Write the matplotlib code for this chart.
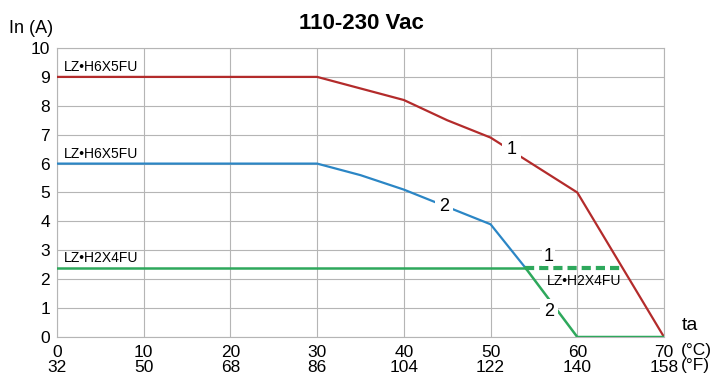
import numpy as np
import matplotlib.pyplot as plt

plt.rcParams['font.family'] = ['Liberation Sans', 'DejaVu Sans']

# derating data, current In (A) vs ambient temperature ta (°C)
temp_c = [0, 10, 20, 30, 40, 50, 60, 70]
temp_f = [32, 50, 68, 86, 104, 122, 140, 158]

h6_ta_1 = [0, 30, 35, 40, 45, 50, 60, 70]
h6_in_1 = [9, 9, 8.6, 8.2, 7.5, 6.9, 5.0, 0]

h6_ta_2 = [0, 30, 35, 40, 45, 50, 54]
h6_in_2 = [6, 6, 5.6, 5.1, 4.5, 3.9, 2.4]

h2_ta = [0, 54]
h2_in = [2.4, 2.4]
h2_ta_1 = [54, 65]
h2_in_1 = [2.4, 2.4]
h2_ta_2 = [54, 60, 70]
h2_in_2 = [2.4, 0, 0]

red = '#b32b2b'
blue = '#2b86c5'
green = '#2ea85c'

fig = plt.figure(figsize=(7.15, 3.84), dpi=100)
ax = fig.add_axes([0.0797, 0.1224, 0.849, 0.7526])

ax.plot(h6_ta_1, h6_in_1, color=red, lw=1.6, zorder=3)
ax.plot(h6_ta_2, h6_in_2, color=blue, lw=1.6, zorder=3)
ax.plot(h2_ta, h2_in, color=green, lw=1.8, zorder=3)
ax.plot(h2_ta_2, h2_in_2, color=green, lw=1.8, zorder=3)
ax.plot(h2_ta_1, h2_in_1, color=green, lw=3, ls=(0, (2.2, 1.2)), zorder=3)

box = dict(facecolor='white', edgecolor='none', pad=3)
ax.text(52.4, 6.5, '1', fontsize=13, ha='center', va='center', bbox=box, zorder=4)
ax.text(44.6, 4.5, '2', fontsize=13, ha='center', va='center', bbox=box, zorder=4)
ax.text(56.7, 2.8, '1', fontsize=13, ha='center', va='center',
        bbox=dict(facecolor='white', edgecolor='none', pad=1), zorder=4)
ax.text(56.7, 0.87, '2', fontsize=13, ha='center', va='center', bbox=box, zorder=4)

ax.text(0.8, 9.1, 'LZ•H6X5FU', fontsize=10, ha='left', va='bottom')
ax.text(0.8, 6.1, 'LZ•H6X5FU', fontsize=10, ha='left', va='bottom')
ax.text(0.8, 2.5, 'LZ•H2X4FU', fontsize=10, ha='left', va='bottom')
ax.text(56.5, 1.95, 'LZ•H2X4FU', fontsize=10, ha='left', va='center', zorder=2)

ax.set_xlim(0, 70)
ax.set_ylim(0, 10)
ax.set_xticks(temp_c)
ax.set_xticklabels([f'{c}\n{f}' for c, f in zip(temp_c, temp_f)], fontsize=12.5, linespacing=0.95)
ax.set_yticks(range(11))
ax.set_yticklabels([str(v) for v in range(11)], fontsize=12.5)
ax.tick_params(axis='x', length=0, pad=6)
ax.tick_params(axis='y', length=0, pad=5)
ax.grid(True, color='#b5b5b5', lw=0.8)
ax.set_axisbelow(True)
for spine in ax.spines.values():
    spine.set_color('#b5b5b5')
    spine.set_linewidth(0.8)

ax.text(1.03, 0.01, 'ta', transform=ax.transAxes, fontsize=14, ha='left', va='bottom')
ax.text(1.027, -0.022, '(°C)\n(°F)', transform=ax.transAxes, fontsize=12.5, ha='left', va='top',
        linespacing=0.95)

fig.text(0.012, 0.925, 'In (A)', fontsize=13, ha='left', va='center')
fig.text(0.505, 0.94, '110-230 Vac', fontsize=16, fontweight='bold', ha='center', va='center')

fig.savefig('out.png', dpi=100)
